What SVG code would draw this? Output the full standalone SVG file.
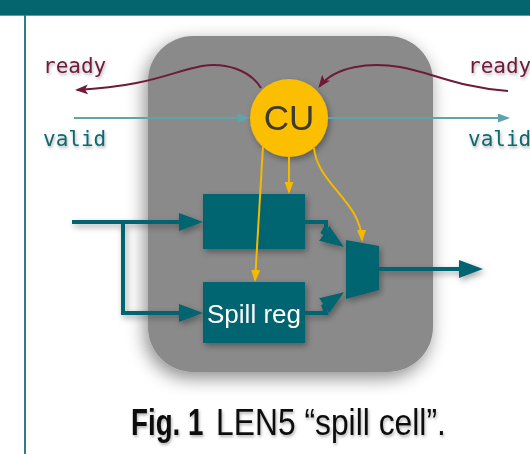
<svg xmlns="http://www.w3.org/2000/svg" width="530" height="454" viewBox="0 0 530 454">
  <style>
    .sig { font-family: "DejaVu Sans Mono", "Liberation Mono", monospace; font-size: 21px; }
    .ready { fill: #6e1a3a; }
    .valid { fill: #0d6772; }
    .teal { fill: #05656f; }
    .data { fill: none; stroke: #05656f; stroke-width: 4; }
    .ctrl { fill: none; stroke: #f5b900; stroke-width: 2; }
    .rdy { fill: none; stroke: #6e1a3a; stroke-width: 2; }
    .vld { fill: none; stroke: #5fa3ab; stroke-width: 2; }
    .sans { font-family: "Liberation Sans", Arial, sans-serif; }
  </style>
  <defs>
    <filter id="panelShadow" x="-20%" y="-20%" width="140%" height="140%">
      <feDropShadow dx="-3" dy="6" stdDeviation="9" flood-color="#000" flood-opacity="0.45"/>
    </filter>
    <filter id="soft" x="-20%" y="-20%" width="140%" height="140%">
      <feDropShadow dx="2" dy="3" stdDeviation="3" flood-color="#000" flood-opacity="0.35"/>
    </filter>
    <filter id="txt" x="-20%" y="-30%" width="140%" height="160%">
      <feDropShadow dx="1" dy="2" stdDeviation="1.5" flood-color="#000" flood-opacity="0.3"/>
    </filter>
    <marker id="bigArrow" viewBox="0 0 24 18" refX="18" refY="9" markerWidth="24" markerHeight="18" markerUnits="userSpaceOnUse" orient="auto">
      <path d="M0,0 L24,9 L0,18 z" fill="#05656f"/>
    </marker>
    <marker id="ctrlArrow" viewBox="0 0 12 9" refX="10" refY="4.5" markerWidth="12" markerHeight="9" markerUnits="userSpaceOnUse" orient="auto">
      <path d="M0,0 L12,4.5 L0,9 z" fill="#f5b900"/>
    </marker>
    <marker id="rdyArrow" viewBox="0 0 13 10" refX="11" refY="5" markerWidth="13" markerHeight="10" markerUnits="userSpaceOnUse" orient="auto">
      <path d="M0,0 L13,5 L0,10 L3,5 z" fill="#6e1a3a"/>
    </marker>
    <marker id="vldArrow" viewBox="0 0 12 9" refX="10" refY="4.5" markerWidth="12" markerHeight="9" markerUnits="userSpaceOnUse" orient="auto">
      <path d="M0,0 L12,4.5 L0,9 z" fill="#5fa3ab"/>
    </marker>
  </defs>

  <!-- frame -->
  <rect x="0" y="0" width="530" height="454" fill="#ffffff"/>
  <rect x="0" y="0" width="530" height="15" fill="#05656f"/>
  <line x1="0" y1="15.5" x2="530" y2="15.5" stroke="#5a9aa3" stroke-width="1"/>
  <line x1="25" y1="15" x2="25" y2="454" stroke="#2f7d88" stroke-width="2"/>

  <!-- panel -->
  <g id="panel">
    <rect x="148" y="36" width="285" height="336" rx="45" ry="45" fill="#8a8a8a" filter="url(#panelShadow)"/>
  </g>

  <!-- signal labels -->
  <g id="label-ready-left" filter="url(#txt)"><text class="sig ready" x="43" y="73">ready</text></g>
  <g id="label-valid-left" filter="url(#txt)"><text class="sig valid" x="43" y="146">valid</text></g>
  <g id="label-ready-right" filter="url(#txt)"><text class="sig ready" x="468" y="73">ready</text></g>
  <g id="label-valid-right" filter="url(#txt)"><text class="sig valid" x="468" y="146">valid</text></g>

  <!-- nodes -->
  <g id="reg" filter="url(#soft)">
    <rect class="teal" x="203" y="194" width="102" height="55"/>
  </g>
  <g id="spill-reg" filter="url(#soft)">
    <rect class="teal" x="203" y="282" width="102" height="61"/>
    <text class="sans" x="254" y="323" font-size="26" fill="#ffffff" text-anchor="middle">Spill reg</text>
  </g>
  <g id="mux" filter="url(#soft)">
    <polygon class="teal" points="346,240 379,246 379,290 346,299"/>
  </g>
  <g id="cu" filter="url(#soft)">
    <circle cx="289" cy="118" r="39" fill="#fbbf00"/>
    <text class="sans" x="289" y="130" font-size="35" fill="#3b3a33" text-anchor="middle">CU</text>
  </g>

  <!-- connectors -->
  <g id="connectors">
    <g filter="url(#soft)">
      <path class="data" d="M72,222 H197" marker-end="url(#bigArrow)"/>
      <path class="data" d="M123,222 V313 H197" marker-end="url(#bigArrow)"/>
      <path class="data" d="M305,222 H326 V227 L323,232.5 L339,243.6" marker-end="url(#bigArrow)"/>
      <path class="data" d="M305,313 H326 L323.5,306 L339,295.5" marker-end="url(#bigArrow)"/>
      <path class="data" d="M379,269 H477" marker-end="url(#bigArrow)"/>
    </g>
    <path class="ctrl" d="M289,157 V192" marker-end="url(#ctrlArrow)"/>
    <path class="ctrl" d="M263,146 L255.1,280" marker-end="url(#ctrlArrow)"/>
    <path class="ctrl" d="M314,148 C318,185 360,200 362,240" marker-end="url(#ctrlArrow)"/>
    <path class="vld" d="M74,118 H248" marker-end="url(#vldArrow)"/>
    <path class="vld" d="M328,118 H508" marker-end="url(#vldArrow)"/>
    <path class="rdy" d="M261,88 C250,70 225,62 202,66 C170,72 150,86 77,90" marker-end="url(#rdyArrow)"/>
    <path class="rdy" d="M508,91 C460,88 430,72 400,67 C370,62 335,66 319.5,86.5" marker-end="url(#rdyArrow)"/>
  </g>

  <!-- caption -->
  <g id="caption" filter="url(#txt)">
    <text class="sans" transform="translate(131,435) scale(0.75,1)" font-size="37" font-weight="bold" fill="#111111">Fig. 1</text>
    <text class="sans" transform="translate(216,435) scale(0.86,1)" font-size="37" fill="#111111">LEN5 “spill cell”.</text>
  </g>
</svg>
